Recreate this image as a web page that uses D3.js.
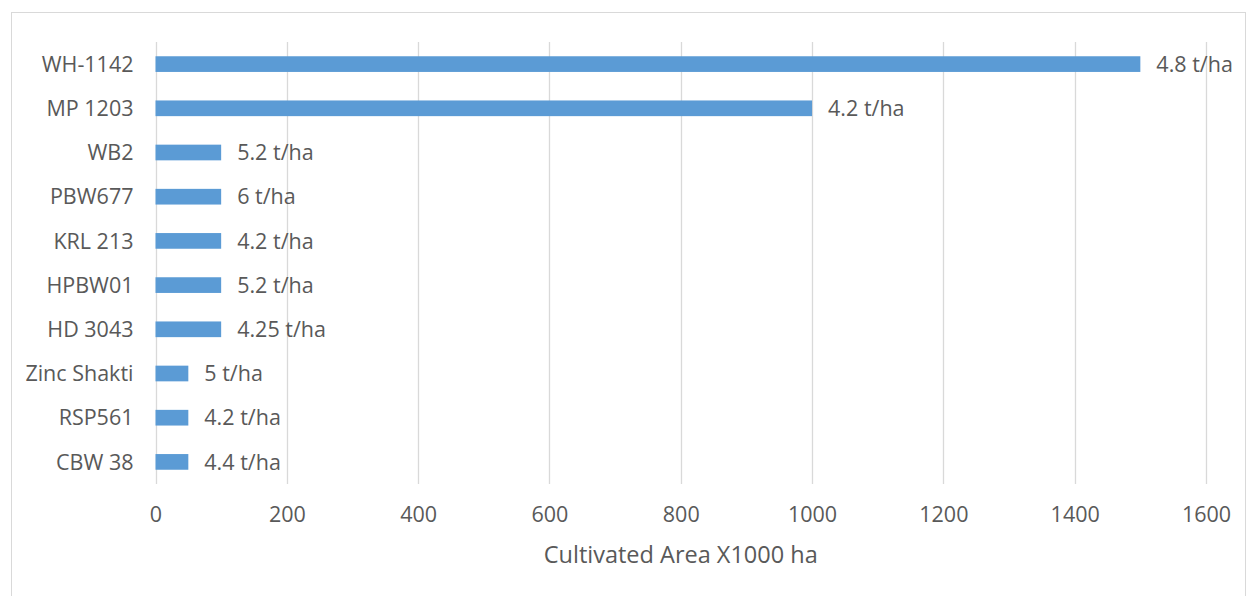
<!DOCTYPE html>
<html>
<head>
<meta charset="utf-8">
<script src="https://cdn.jsdelivr.net/npm/d3@7"></script>
<style>
  html, body { margin: 0; padding: 0; background: #fff; }
  svg { display: block; }
  text { font-family: "Open Sans", "Noto Sans", sans-serif; fill: #595959; }
</style>
</head>
<body>
<svg id="chart" width="1247" height="596"></svg>
<script>
// Wheat varieties, cultivated area (x1000 ha) and yield labels
const varieties = ["WH-1142", "MP 1203", "WB2", "PBW677", "KRL 213", "HPBW01", "HD 3043", "Zinc Shakti", "RSP561", "CBW 38"];
const areas = [1500, 1000, 100, 100, 100, 100, 100, 50, 50, 50];
const yieldLabels = ["4.8 t/ha", "4.2 t/ha", "5.2 t/ha", "6 t/ha", "4.2 t/ha", "5.2 t/ha", "4.25 t/ha", "5 t/ha", "4.2 t/ha", "4.4 t/ha"];
const xTicks = [0, 200, 400, 600, 800, 1000, 1200, 1400, 1600];
const xTitle = "Cultivated Area X1000 ha";

const rows = varieties.map((v, i) => ({ name: v, area: areas[i], label: yieldLabels[i] }));

const svg = d3.select("#chart");
const fontSize = 21.5;

// outer chart frame
svg.append("rect")
  .attr("x", 11.5).attr("y", 12.5)
  .attr("width", 1234).attr("height", 600)
  .attr("fill", "none").attr("stroke", "#d9d9d9").attr("stroke-width", 1);

const plot = { left: 155.5, right: 1206, top: 42, bottom: 484 };

const x = d3.scaleLinear().domain([0, 1600]).range([plot.left, plot.right]);
const y = d3.scaleBand().domain(varieties).range([plot.top, plot.bottom]).paddingInner(0.645).paddingOuter(0.3225);

// vertical gridlines
svg.append("g")
  .selectAll("line")
  .data(xTicks)
  .join("line")
  .attr("x1", d => Math.round(x(d)) + 0.5)
  .attr("x2", d => Math.round(x(d)) + 0.5)
  .attr("y1", plot.top).attr("y2", plot.bottom)
  .attr("stroke", "#d9d9d9").attr("stroke-width", 1.3);

// bars
svg.append("g")
  .selectAll("rect")
  .data(rows)
  .join("rect")
  .attr("x", x(0))
  .attr("y", d => y(d.name))
  .attr("width", d => x(d.area) - x(0))
  .attr("height", y.bandwidth())
  .attr("fill", "#5b9bd5");

// yield labels to the right of each bar
svg.append("g")
  .selectAll("text")
  .data(rows)
  .join("text")
  .attr("x", d => x(d.area) + 16)
  .attr("y", d => y(d.name) + y.bandwidth() / 2)
  .attr("dy", "0.36em")
  .attr("font-size", fontSize)
  .text(d => d.label);

// category axis
const yAxis = svg.append("g")
  .attr("transform", `translate(${plot.left - 22},0)`)
  .call(d3.axisLeft(y).tickSize(0).tickPadding(0));
yAxis.select(".domain").remove();
yAxis.selectAll("text")
  .attr("font-size", fontSize)
  .attr("dy", "0.36em")
  .style("fill", "#595959")
  .style("font-family", "\"Open Sans\", sans-serif");

// value axis
const xAxis = svg.append("g")
  .attr("transform", `translate(0,${plot.bottom})`)
  .call(d3.axisBottom(x).tickValues(xTicks).tickSize(0).tickPadding(23).tickFormat(d3.format("d")));
xAxis.select(".domain").remove();
xAxis.selectAll("text")
  .attr("font-size", fontSize)
  .style("fill", "#595959")
  .style("font-family", "\"Open Sans\", sans-serif");

// axis title
svg.append("text")
  .attr("x", (plot.left + plot.right) / 2)
  .attr("y", 563)
  .attr("text-anchor", "middle")
  .attr("font-size", 23.5)
  .text(xTitle);
</script>
</body>
</html>
